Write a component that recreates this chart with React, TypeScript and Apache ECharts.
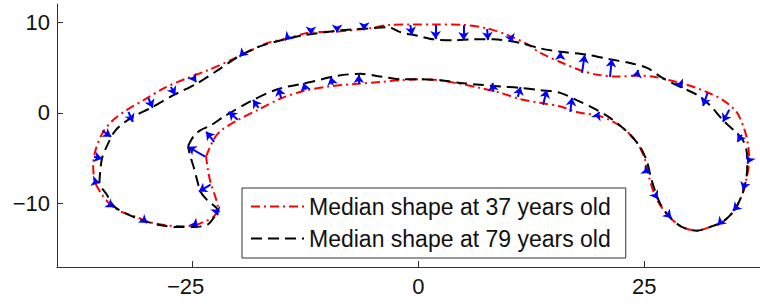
import React, { useEffect, useRef } from "react";
import * as echarts from "echarts";

const xTicks = [-25, 0, 25];
const yTicks = [-10, 0, 10];
const legendNames = ["Median shape at 37 years old", "Median shape at 79 years old"];

// Median contour at 37 years (red, dash-dot)
const shape37: [number, number][] = [
  [-23.5, -4.8], [-22.7, -3.0], [-21.9, -2.0], [-20.0, -0.8], [-17.8, 0.3], [-15.2, 1.6],
  [-12.7, 2.4], [-10.0, 2.9], [-6.7, 3.2], [-4.2, 3.4], [-2.0, 3.6], [0.2, 3.7], [2.4, 3.6],
  [4.6, 3.2], [6.8, 2.75], [9.1, 2.2], [11.3, 1.5], [13.5, 1.1], [15.7, 0.7], [17.5, 0.1],
  [19.8, -0.3], [21.2, -0.8], [22.6, -1.65], [24.2, -3.3], [25.1, -5.2], [25.6, -7.4],
  [26.4, -9.6], [27.8, -11.5], [29.2, -12.6], [30.8, -13.0], [32.2, -12.6], [33.7, -12.0],
  [35.0, -10.7], [35.9, -8.8], [36.4, -6.8], [36.6, -5.2], [36.5, -3.7], [36.1, -1.9],
  [35.2, 0.1], [33.7, 1.4], [31.9, 2.3], [29.7, 3.1], [27.8, 3.6], [25.9, 4.0], [24.2, 4.1],
  [22.0, 4.0], [19.8, 4.2], [17.9, 4.7], [15.7, 5.6], [13.5, 6.6], [12.0, 7.6], [9.8, 8.6],
  [7.6, 9.3], [5.0, 9.7], [2.1, 9.75], [-0.6, 9.75], [-3.1, 9.7], [-5.6, 9.3], [-8.6, 9.0],
  [-12.3, 8.8], [-14.5, 8.2], [-16.7, 7.7], [-18.5, 6.9], [-20.8, 5.8], [-23.3, 4.7],
  [-25.9, 3.7], [-28.1, 2.75], [-30.4, 1.4], [-32.3, 0.3], [-33.9, -0.9], [-35.0, -2.3],
  [-35.7, -4.0], [-36.0, -5.7], [-35.8, -7.6], [-35.1, -8.9], [-34.2, -10.0], [-32.9, -10.9],
  [-31.2, -11.5], [-29.6, -12.1], [-27.9, -12.4], [-26.3, -12.5], [-24.8, -12.4],
  [-23.7, -12.0], [-22.6, -11.4], [-22.2, -10.4], [-22.5, -9.2], [-23.0, -7.7], [-23.3, -6.3],
];

// Median contour at 79 years (black, dashed)
const shape79: [number, number][] = [
  [-25.5, -3.7], [-24.9, -2.6], [-24.1, -1.9], [-23.0, -1.4], [-21.5, -0.4], [-18.5, 1.3],
  [-15.6, 2.6], [-11.9, 3.4], [-8.9, 4.1], [-6.4, 4.3], [-4.2, 4.0], [-2.0, 3.7], [0.2, 3.7],
  [2.4, 3.6], [4.6, 3.3], [6.8, 3.1], [9.1, 2.9], [11.3, 2.75], [13.5, 2.5], [15.7, 2.2],
  [17.5, 1.4], [19.3, 0.55], [21.2, -0.55], [23.1, -2.1], [24.5, -3.7], [25.3, -5.4],
  [25.8, -7.4], [26.7, -9.9], [27.8, -11.5], [29.2, -12.6], [30.8, -13.0], [32.2, -12.6],
  [33.7, -12.0], [35.0, -10.7], [35.9, -8.8], [36.3, -7.1], [36.4, -5.5], [36.3, -4.1],
  [35.9, -3.0], [35.2, -2.2], [33.7, -0.8], [32.2, 0.9], [30.8, 2.0], [28.9, 2.9],
  [27.0, 3.85], [25.3, 4.95], [23.4, 5.5], [21.2, 5.9], [18.7, 6.4], [16.0, 6.7], [13.5, 7.1],
  [11.3, 7.7], [8.3, 8.1], [6.1, 8.1], [3.9, 8.0], [1.7, 8.1], [-0.1, 8.5], [-2.0, 8.9],
  [-3.4, 9.45], [-5.6, 9.3], [-8.6, 9.1], [-13.0, 8.5], [-15.2, 8.0], [-17.8, 7.25],
  [-20.0, 6.15], [-22.2, 4.7], [-24.4, 3.3], [-27.0, 2.0], [-29.6, 0.55], [-31.8, -0.55],
  [-33.5, -1.9], [-34.4, -3.5], [-35.0, -4.95], [-35.2, -6.3], [-35.3, -7.7], [-34.5, -9.0],
  [-33.7, -10.3], [-32.6, -11.0], [-30.7, -11.8], [-28.5, -12.4], [-26.6, -12.6],
  [-24.8, -12.6], [-23.3, -12.3], [-22.6, -11.5], [-22.1, -10.9], [-23.4, -9.6],
  [-24.1, -8.7], [-24.5, -7.4], [-24.9, -5.9], [-25.3, -4.6],
];

// Displacement arrows: start (on 37-year shape) and end (on 79-year shape)
const arrowFrom: [number, number][] = [
  [-32.1, 0.1], [-29.9, 1.65], [-27.4, 2.86], [-24.9, 3.85], [-35.0, -1.98], [-35.9, -4.84],
  [-35.7, -7.6], [-34.0, -10.2], [-30.2, -12.0], [-24.6, -12.4], [-22.3, -11.0],
  [-23.6, -4.84], [-23.0, -7.91], [-22.6, -3.19], [-20.0, -0.77], [-17.7, 0.55], [-15.2, 1.65],
  [-12.5, 2.53], [-9.5, 3.08], [-6.6, 3.19],
  [8.3, 2.31], [11.0, 1.76], [13.8, 0.88], [16.8, 0.11], [19.8, -0.33],
  [25.4, -6.5], [26.3, -9.2], [27.8, -11.4], [33.3, -12.2], [35.0, -10.6], [36.0, -8.2], [36.5, -5.4],
  [-0.9, 9.67], [1.9, 9.67], [5.0, 9.67], [7.6, 9.23], [10.2, 8.35], [15.7, 6.04], [18.1, 4.4],
  [21.2, 3.96], [24.2, 4.18], [28.9, 3.3], [32.0, 2.2], [34.4, 0.33], [35.8, -2.42],
  [-11.9, 8.85], [-9.0, 9.05], [-6.0, 9.3], [-19.6, 6.4], [-14.6, 8.2],
];
const arrowTo: [number, number][] = [
  [-31.6, -1.0], [-29.4, 0.55], [-26.9, 1.98], [-24.6, 3.4], [-34.0, -2.64], [-35.0, -5.05],
  [-35.3, -7.7], [-33.7, -10.4], [-30.0, -12.15], [-24.4, -12.6], [-22.2, -11.3],
  [-25.5, -3.74], [-24.3, -8.68], [-23.5, -2.09], [-21.0, 0.11], [-18.3, 1.43], [-15.5, 2.75],
  [-12.7, 3.3], [-9.7, 3.96], [-6.6, 4.18],
  [8.2, 3.3], [11.3, 2.86], [14.2, 2.53], [17.0, 1.65], [20.0, 0.1],
  [25.6, -6.6], [26.5, -9.5], [28.0, -11.6], [33.1, -12.4], [34.8, -10.8], [35.9, -8.5], [36.4, -5.6],
  [-0.7, 8.57], [1.9, 8.13], [5.0, 8.02], [7.7, 8.02], [10.4, 7.8], [15.7, 6.7], [18.4, 6.37],
  [21.4, 5.93], [24.3, 4.73], [29.2, 2.75], [31.5, 0.77], [33.7, -0.99], [35.3, -3.19],
  [-11.9, 8.65], [-9.0, 8.85], [-6.0, 9.1], [-19.8, 6.2], [-14.8, 8.0],
];

const FONT = "'Liberation Sans', Arial, Helvetica, sans-serif";

export default function App() {
  const ref = useRef<HTMLDivElement>(null);

  useEffect(() => {
    if (!ref.current) return;
    const chart = echarts.init(ref.current, null, { renderer: "svg" });
    const closed = (p: [number, number][]) => [...p, p[0]];
    const fmt = (v: number) => String(v).replace("-", "\u2212");
    const axisColor = "#333333";
    const labelText = { fontSize: 22, color: "#111", fontFamily: FONT };

    chart.setOption({
      animation: false,
      backgroundColor: "#ffffff",
      textStyle: { fontFamily: FONT },
      grid: { left: 57, top: 4, width: 703, height: 263, containLabel: false },
      xAxis: {
        type: "value",
        min: -40,
        max: 37.8,
        axisLine: { onZero: false, lineStyle: { color: axisColor, width: 1 } },
        axisTick: { inside: true, length: 6, customValues: xTicks, lineStyle: { color: axisColor } },
        axisLabel: {
          customValues: xTicks,
          formatter: (v: number) => (v < 0 ? `{n|${fmt(v)}}` : `{p|${fmt(v)}}`),
          margin: 8,
          ...labelText,
          rich: {
            n: { ...labelText, padding: [0, 14, 0, 0] },
            p: { ...labelText },
          },
        },
        splitLine: { show: false },
      },
      yAxis: {
        type: "value",
        min: -17,
        max: 12,
        axisLine: { show: true, onZero: false, lineStyle: { color: axisColor, width: 1 } },
        axisTick: { show: true, inside: true, length: 6, customValues: yTicks, lineStyle: { color: axisColor } },
        axisLabel: {
          customValues: yTicks,
          formatter: (v: number) => `{t|${fmt(v)}}`,
          margin: 7,
          align: "right",
          ...labelText,
          rich: {
            t: { ...labelText, width: 44, align: "right" },
          },
        },
        splitLine: { show: false },
      },
      legend: {
        data: legendNames,
        orient: "vertical",
        left: 242,
        top: 188,
        padding: [7, 15, 8, 8],
        itemWidth: 53,
        itemHeight: 14,
        itemGap: 9,
        borderColor: axisColor,
        borderWidth: 1,
        backgroundColor: "#ffffff",
        itemStyle: { opacity: 0 },
        textStyle: { fontSize: 23, color: "#111", fontFamily: FONT },
      },
      series: [
        {
          name: legendNames[0],
          type: "line",
          data: closed(shape37),
          symbol: "none",
          smooth: 0.3,
          lineStyle: { color: "#ff0000", width: 2, type: [9, 4, 2, 4] },
          itemStyle: { color: "#ff0000" },
          z: 2,
        },
        {
          name: legendNames[1],
          type: "line",
          data: closed(shape79),
          symbol: "none",
          smooth: 0.3,
          lineStyle: { color: "#000000", width: 2, type: [11, 6] },
          itemStyle: { color: "#000000" },
          z: 3,
        },
        {
          name: "displacement",
          type: "lines",
          coordinateSystem: "cartesian2d",
          data: arrowFrom.map((p, i) => ({ coords: [p, arrowTo[i]] })),
          symbol: ["none", "arrow"],
          symbolSize: 8,
          lineStyle: { color: "#0000ff", width: 2, opacity: 1, curveness: 0 },
          z: 4,
        },
      ],
    });

    return () => chart.dispose();
  }, []);

  return (
    <div
      ref={ref}
      style={{ position: "fixed", left: 0, top: 0, width: 760, height: 305, background: "#fff" }}
    />
  );
}
